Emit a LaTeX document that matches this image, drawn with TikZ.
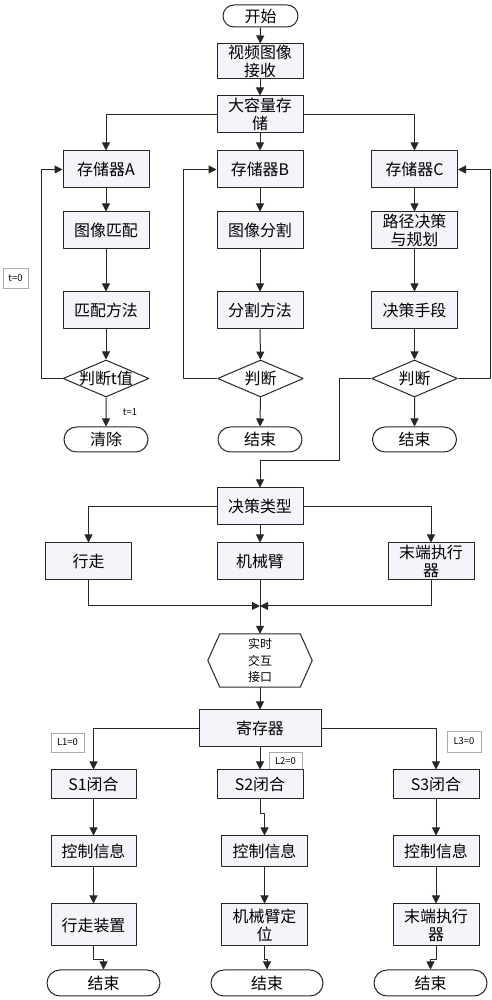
\documentclass[tikz,border=0pt]{standalone}
\usepackage{fontspec}
\setmainfont{Noto Sans CJK SC}
\usetikzlibrary{arrows.meta,shapes.geometric,shapes.misc}
\definecolor{boxfill}{RGB}{243,245,251}
\definecolor{tagline}{RGB}{170,170,170}
\tikzset{
  proc/.style={draw=black!85, fill=boxfill, line width=1bp, minimum width=86bp, minimum height=37bp, inner sep=1bp, align=center, font=\fontsize{16}{18}\selectfont},
  term/.style={rounded rectangle, draw=black!85, fill=white, line width=1bp, minimum width=86bp, minimum height=25bp, inner sep=1bp, font=\fontsize{16}{18}\selectfont},
  decision/.style={diamond, draw=black!85, line width=1bp, minimum width=86bp, minimum height=37bp, inner sep=0pt, label={[font=\fontsize{16}{18}\selectfont]center:#1}},
  tag/.style={draw=tagline, line width=0.8bp, inner sep=1bp, font=\fontsize{9.5}{10}\selectfont},
  conn/.style={black!85, line width=1bp},
  outline/.style={draw=black!85, line width=1bp, line join=miter},
}
\begin{document}
\begin{tikzpicture}[>={Triangle[length=8bp,width=8bp]},line join=bevel,]
\useasboundingbox (0bp,0bp) rectangle (492bp,1000bp);
%%
\node (node_start) at (260.5bp,984bp) [term, minimum width=77bp, minimum height=22bp] {开始};
  \node (node_recv) at (260bp,938.5bp) [proc, minimum height=35bp] {视频图像\\接收};
  \node (node_store) at (260bp,885.5bp) [proc] {大容量存\\储};
  \node (node_memA) at (106bp,830.5bp) [proc] {存储器A};
  \node (node_memB) at (260bp,830.5bp) [proc] {存储器B};
  \node (node_memC) at (414.5bp,830.5bp) [proc] {存储器C};
  \node (node_match) at (106bp,769.5bp) [proc] {图像匹配};
  \node (node_seg) at (260bp,769.5bp) [proc] {图像分割};
  \node (node_plan) at (414.5bp,769.5bp) [proc] {路径决策\\与规划};
  \node (node_mmeth) at (106bp,689.5bp) [proc] {匹配方法};
  \node (node_smeth) at (260bp,689.5bp) [proc] {分割方法};
  \node (node_means) at (414.5bp,689.5bp) [proc] {决策手段};
  \node (node_judgeA) at (106bp,621.5bp) [decision=判断t值] {};
  \node (node_judgeB) at (260.5bp,621.5bp) [decision=判断] {};
  \node (node_judgeC) at (414.5bp,621.5bp) [decision=判断] {};
  \node (node_clear) at (106bp,560.5bp) [term] {清除};
  \node (node_endB) at (260bp,560.5bp) [term] {结束};
  \node (node_endC) at (414.5bp,560.5bp) [term] {结束};
  \node (node_t0) at (15.5bp,722bp) [tag, minimum width=25bp, minimum height=20bp] {t=0};
  \node (node_t1) at (130bp,588bp) [font=\fontsize{9.5}{10}\selectfont] {t=1};
  \coordinate (bend_C) at (339bp,539bp);
%
  \node (node_type) at (260bp,493.5bp) [proc] {决策类型};
  \node (node_walk) at (88.5bp,438.5bp) [proc] {行走};
  \node (node_arm) at (260bp,438.5bp) [proc] {机械臂};
  \node (node_eff) at (431bp,438.5bp) [proc] {末端执行\\器};
  \coordinate (merge) at (260bp,394bp);
  \node (node_hex) at (260bp,339.5bp) [minimum width=104bp, minimum height=53bp, inner sep=0pt, align=center, font=\fontsize{12}{16.5}\selectfont] {实时\\交互\\接口};
  \draw [outline] (node_hex.west) -- ([xshift=12bp]node_hex.north west) -- ([xshift=-12bp]node_hex.north east) -- (node_hex.east) -- ([xshift=-12bp]node_hex.south east) -- ([xshift=12bp]node_hex.south west) -- cycle;
  \node (node_reg) at (260bp,271.5bp) [proc, minimum width=122bp] {寄存器};
%
  \node (node_L1) at (67.5bp,257.5bp) [tag, minimum width=33bp, minimum height=19bp] {L1=0};
  \node (node_L2) at (285.5bp,239bp) [tag, minimum width=33bp, minimum height=18bp] {L2=0};
  \node (node_L3) at (464bp,258.5bp) [tag, minimum width=34bp, minimum height=21bp] {L3=0};
  \node (node_s1) at (93.5bp,215.5bp) [proc, minimum width=85bp, minimum height=29bp] {S1闭合};
  \node (node_s2) at (260bp,215.5bp) [proc, minimum height=29bp] {S2闭合};
  \node (node_s3) at (436bp,215.5bp) [proc, minimum height=29bp] {S3闭合};
  \node (node_ctl1) at (93.5bp,148.5bp) [proc, minimum width=85bp, minimum height=31bp] {控制信息};
  \node (node_ctl2) at (264.5bp,148.5bp) [proc, minimum height=31bp] {控制信息};
  \node (node_ctl3) at (436bp,148.5bp) [proc, minimum height=31bp] {控制信息};
  \node (node_dev1) at (93.5bp,75bp) [proc, minimum width=85bp, minimum height=42bp] {行走装置};
  \node (node_dev2) at (264.5bp,75bp) [proc, minimum height=42bp] {机械臂定\\位};
  \node (node_dev3) at (436bp,75bp) [proc, minimum height=42bp] {末端执行\\器};
  \node (node_end1) at (103.5bp,17bp) [term, minimum width=115bp, minimum height=26bp] {结束};
  \node (node_end2) at (267bp,17bp) [term, minimum width=114bp, minimum height=26bp] {结束};
  \node (node_end3) at (430.5bp,17bp) [term, minimum width=115bp, minimum height=26bp] {结束};
%
  \draw [conn,->] (node_start) -- (node_recv);
  \draw [conn,->] (node_recv) -- (node_store);
  \draw [conn,->] (node_store.west) -| (node_memA);
  \draw [conn,->] (node_store) -- (node_memB);
  \draw [conn,->] (node_store.east) -| (node_memC);
  \draw [conn,->] (node_memA) -- (node_match);
  \draw [conn,->] (node_match) -- (node_mmeth);
  \draw [conn,->] (node_mmeth) -- (node_judgeA);
  \draw [conn,->] (node_judgeA) -- (node_clear);
  \draw [conn,->] (node_judgeA.west) -- ++(-21bp,0) |- (node_memA.west);
  \draw [conn,->] (node_memB) -- (node_seg);
  \draw [conn,->] (node_seg) -- (node_smeth);
  \draw [conn,->] (node_smeth) -- (node_judgeB);
  \draw [conn,->] (node_judgeB) -- (node_endB);
  \draw [conn,->] (node_judgeB.west) -- ++(-34bp,0) |- (node_memB.west);
  \draw [conn,->] (node_memC) -- (node_plan);
  \draw [conn,->] (node_plan) -- (node_means);
  \draw [conn,->] (node_means) -- (node_judgeC);
  \draw [conn,->] (node_judgeC) -- (node_endC);
  \draw [conn,->] (node_judgeC.east) -- ++(32bp,0) |- (node_memC.east);
  \draw [conn,->] (node_judgeC.west) -| (bend_C) -| (node_type);
%
  \draw [conn,->] (node_type.west) -| (node_walk);
  \draw [conn,->] (node_type) -- (node_arm);
  \draw [conn,->] (node_type.east) -| (node_eff);
  \draw [conn,->] (node_walk) |- (merge);
  \draw [conn,->] (node_eff) |- (merge);
  \draw [conn,->] (node_arm) -- (node_hex.north);
  \draw [conn,->] (node_hex.south) -- (node_reg);
  \draw [conn,->] (node_reg.west) -| (node_s1);
  \draw [conn,->] (node_reg) -- (node_s2);
  \draw [conn,->] (node_reg.east) -| (node_s3);
  \draw [conn,->] (node_s1) -- (node_ctl1);
  \draw [conn,->] (node_s2.south) -- ++(0,-14bp) -| (node_ctl2);
  \draw [conn,->] (node_s3) -- (node_ctl3);
  \draw [conn,->] (node_ctl1) -- (node_dev1);
  \draw [conn,->] (node_ctl2) -- (node_dev2);
  \draw [conn,->] (node_ctl3) -- (node_dev3);
  \draw [conn,->] (node_dev1.south) -- ++(0,-13bp) -| (node_end1);
  \draw [conn,->] (node_dev2.south) -- ++(0,-13bp) -| (node_end2);
  \draw [conn,->] (node_dev3.south) -- ++(0,-13bp) -| (node_end3);
%
\end{tikzpicture}
\end{document}
